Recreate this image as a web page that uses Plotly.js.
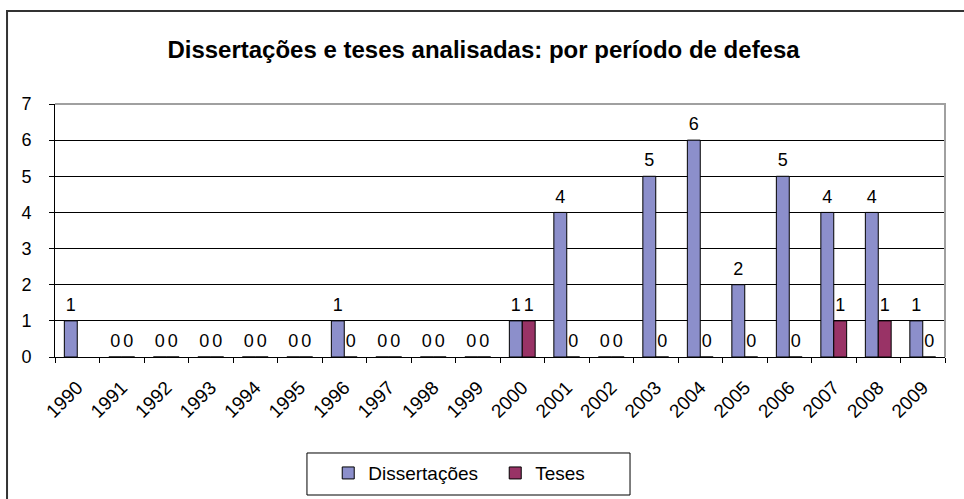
<!DOCTYPE html>
<html><head><meta charset="utf-8">
<script src="https://cdn.plot.ly/plotly-3.0.1.min.js"></script>
<style>html,body{margin:0;padding:0;background:#fff}</style>
</head><body><div id="chart" style="width:964px;height:499px"></div>
<script>
const years = ['1990','1991','1992','1993','1994','1995','1996','1997','1998','1999','2000','2001','2002','2003','2004','2005','2006','2007','2008','2009'];
const dissertacoes = [1,0,0,0,0,0,1,0,0,0,1,4,0,5,6,2,5,4,4,1];
const teses = [null,0,0,0,0,0,0,0,0,0,1,0,0,0,0,0,0,1,1,0];
const seriesNames = ['Dissertações','Teses'];
const chartTitle = 'Dissertações e teses analisadas: por período de defesa';

const FONT = 'Liberation Sans, Arial, sans-serif';
const colD = '#8c8fcb', colT = '#993366';

function barTrace(name, vals, col, grp){
  return {type:'bar', name:name, x:years, y:vals, offsetgroup:grp, alignmentgroup:'a',
    marker:{color:col, line:{color:'#000', width:1}}, hoverinfo:'skip'};
}
function labelTrace(vals, grp){
  return {type:'scatter', mode:'markers+text', x:years, y:vals, offsetgroup:grp, alignmentgroup:'a',
    text: vals.map(v => v === null ? '' : String(v)), textposition:'top center',
    textfont:{family:FONT, size:18, color:'#000'},
    marker:{size:7, color:'rgba(0,0,0,0)'}, showlegend:false, hoverinfo:'skip', cliponaxis:false};
}

const data = [
  barTrace(seriesNames[0], dissertacoes, colD, 'd'),
  barTrace(seriesNames[1], teses, colT, 't'),
  labelTrace(dissertacoes, 'd'),
  labelTrace(teses, 't')
];

const layout = {
  width:964, height:499,
  margin:{l:55, r:19, t:104, b:142},
  paper_bgcolor:'#fff', plot_bgcolor:'#fff',
  font:{family:FONT, color:'#000', size:18},
  title:{text:chartTitle, font:{family:FONT, size:24, weight:'bold', color:'#000'}, x:0.5016, xanchor:'center', y:0.9, yanchor:'middle'},
  barmode:'group', bargap:0.42, bargroupgap:0,
  scattermode:'group', scattergap:0.42,
  xaxis:{type:'category', tickangle:-45, tickfont:{size:19}, ticks:'outside', tickson:'boundaries', ticklen:5,
    tickcolor:'#000', showline:true, linecolor:'#000', linewidth:1, showgrid:false, fixedrange:true,
    ticklabelstandoff:11, automargin:false},
  yaxis:{range:[0,7], tick0:0, dtick:1, ticks:'outside', ticklen:5, tickcolor:'#000', showline:true,
    linecolor:'#000', linewidth:1, gridcolor:'#000', gridwidth:1, zeroline:false, tickfont:{size:18},
    ticklabelstandoff:14, fixedrange:true, automargin:false},
  showlegend:true,
  legend:{orientation:'h', x:0.307, xanchor:'left', yref:'container', y:0.09, yanchor:'top', bgcolor:'rgba(0,0,0,0)',
    font:{family:FONT, size:19, color:'#000'}, borderwidth:0, entrywidth:122},
  shapes:[
    {type:'rect', xref:'paper', yref:'paper', x0:-0.0539, x1:1.03, y0:-0.62, y1:1.3676, line:{color:'#333', width:2}, fillcolor:'rgba(0,0,0,0)', layer:'above'},
    {type:'path', xref:'paper', yref:'paper', path:'M 0 1 L 1 1 L 1 0', line:{color:'#a0a0a0', width:2}, layer:'above'},
    {type:'rect', xref:'paper', yref:'paper', x0:0.2831, x1:0.6461, y0:-0.5455, y1:-0.3794, line:{color:'#000', width:1}, fillcolor:'rgba(0,0,0,0)', layer:'above'}
  ]
};

Plotly.newPlot('chart', data, layout, {displayModeBar:false, staticPlot:true});
</script></body></html>
